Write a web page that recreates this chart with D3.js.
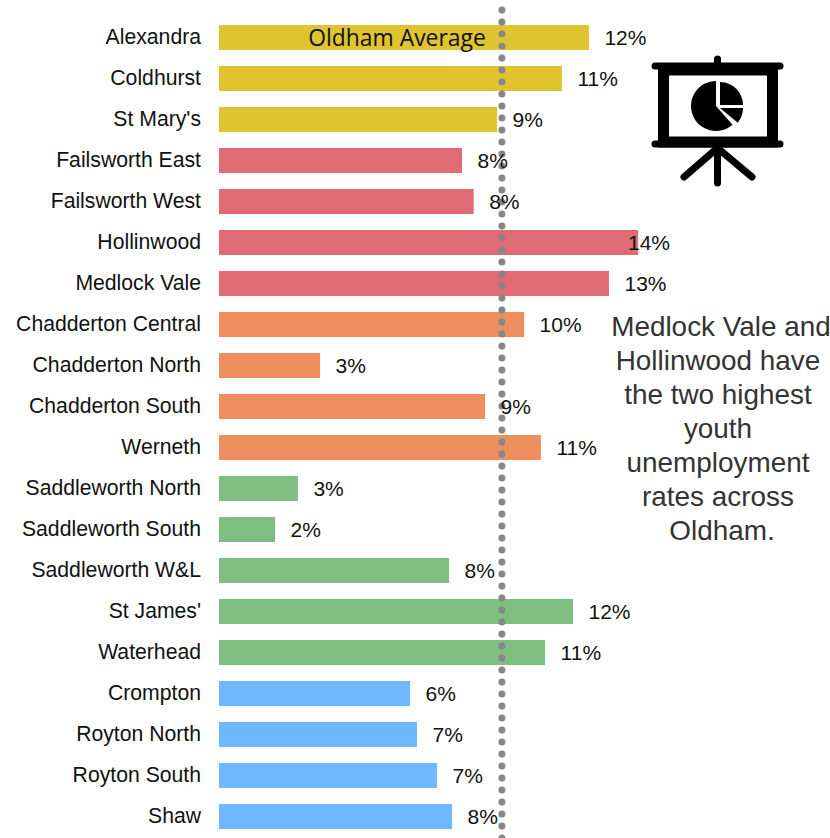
<!DOCTYPE html>
<html>
<head>
<meta charset="utf-8">
<script src="https://cdn.jsdelivr.net/npm/d3@7"></script>
<style>
html,body{margin:0;padding:0;background:#fff;}
svg{display:block;}
</style>
</head>
<body>
<div id="chart"></div>
<script>
var wards=["Alexandra","Coldhurst","St Mary's","Failsworth East","Failsworth West","Hollinwood","Medlock Vale","Chadderton Central","Chadderton North","Chadderton South","Werneth","Saddleworth North","Saddleworth South","Saddleworth W&L","St James'","Waterhead","Crompton","Royton North","Royton South","Shaw"];
var rates=[0.1233,0.1143,0.0927,0.081,0.0849,0.1397,0.13,0.1017,0.0337,0.0887,0.1073,0.0263,0.0187,0.0767,0.118,0.1087,0.0637,0.066,0.0727,0.0777];
var groups=["a","a","a","b","b","b","b","c","c","c","c","d","d","d","d","d","e","e","e","e"];
var groupColours=["#e0c330","#e06b74","#ee8e5f","#7ebf81","#6db8ff"];
var average=0.0943;
var note=["Medlock Vale and","Hollinwood have","the two highest","youth","unemployment","rates across"," Oldham."];

var width=830,height=838;
var svg=d3.select("#chart").append("svg").attr("width",width).attr("height",height);

var x=d3.scaleLinear().domain([0,0.14]).range([219,639]);
var y=d3.scaleBand().domain(wards).range([17,837]).paddingInner(0.39).paddingOuter(0.195);
var colour=d3.scaleOrdinal().domain(["a","b","c","d","e"]).range(groupColours);

svg.selectAll(".bar")
  .data(wards)
  .enter()
  .append("rect")
  .attr("class","bar")
  .attr("x",x(0))
  .attr("y",function(d){return y(d);})
  .attr("width",function(d,i){return x(rates[i])-x(0);})
  .attr("height",y.bandwidth())
  .style("fill",function(d,i){return colour(groups[i]);});

// ward names
var axis=svg.append("g")
  .attr("transform","translate("+x(0)+",0)")
  .call(d3.axisLeft(y).tickSize(0).tickPadding(18));
axis.select(".domain").remove();
axis.selectAll("text")
  .style("font-family","'Liberation Sans',Arial,sans-serif")
  .style("font-size","21.2px")
  .style("fill","#111");

// average line, drawn over the bars
svg.append("line")
  .attr("x1",x(average)).attr("x2",x(average))
  .attr("y1",10).attr("y2",height+10)
  .attr("stroke","#868686")
  .attr("stroke-width",7)
  .attr("stroke-linecap","round")
  .attr("stroke-dasharray","0 12");

// value labels, the longest bar's label is pulled back in
svg.selectAll(".val")
  .data(wards)
  .enter()
  .append("text")
  .attr("class","val")
  .attr("x",function(d,i){return Math.min(x(rates[i])+15.5,628);})
  .attr("y",function(d){return y(d)+y.bandwidth()/2+0.5;})
  .attr("dy","0.35em")
  .style("font-family","'Liberation Sans',Arial,sans-serif")
  .style("font-size","21px")
  .style("fill","#111")
  .text(function(d,i){return d3.format(".0%")(rates[i]);});

svg.append("text")
  .attr("x",397).attr("y",46)
  .attr("text-anchor","middle")
  .style("font-family","'Open Sans',sans-serif")
  .style("font-size","22.9px")
  .style("fill","#111")
  .text("Oldham Average");

svg.append("g").selectAll("text")
  .data(note)
  .enter()
  .append("text")
  .attr("x",function(d,i){return i==0?721:(i==6?722:718);})
  .attr("y",function(d,i){return 336+i*34;})
  .attr("text-anchor","middle")
  .style("font-family","'Liberation Sans',Arial,sans-serif")
  .style("font-size","27.9px")
  .style("fill","#333")
  .text(function(d){return d.trim();});

// presentation icon
var icon=svg.append("g");
function seg(x1,y1,x2,y2,w){
  icon.append("line")
    .attr("x1",x1).attr("y1",y1).attr("x2",x2).attr("y2",y2)
    .attr("stroke","#000").attr("stroke-width",w).attr("stroke-linecap","round");
}
icon.append("rect").attr("x",663.5).attr("y",70).attr("width",109).attr("height",72)
  .attr("fill","#fff").attr("stroke","#000").attr("stroke-width",11);
seg(655,66,780,66,7);
seg(655,144,780,144,7);
seg(717.5,59,717.5,66,7);
seg(717.5,148,717.5,183,7);
seg(717.5,148,684,177,7);
seg(717.5,148,752,177,7);
var arc=d3.arc();
var slices=[
  [716,106,25,Math.PI*0.77,Math.PI*2],
  [720,105,23,0,Math.PI/2],
  [720,108,23,Math.PI/2,Math.PI*0.72]
];
slices.forEach(function(s){
  icon.append("path")
    .attr("transform","translate("+s[0]+","+s[1]+")")
    .attr("d",arc({innerRadius:0,outerRadius:s[2],startAngle:s[3],endAngle:s[4]}))
    .attr("fill","#000");
});
</script>
</body>
</html>
